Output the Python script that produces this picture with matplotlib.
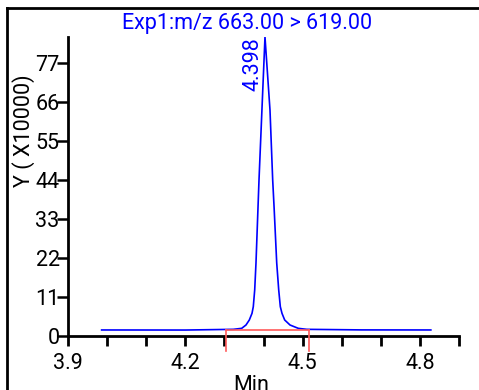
import matplotlib
matplotlib.use('Agg')
import matplotlib.pyplot as plt
from matplotlib.lines import Line2D

plt.rcParams['font.family'] = ['Roboto', 'DejaVu Sans']

# chromatogram trace (time in min, intensity in X10000)
rt = [3.986, 4.20, 4.3228, 4.3442, 4.3552, 4.3637, 4.3706, 4.3739, 4.3775,
      4.3808, 4.3885, 4.4038, 4.4166, 4.4235, 4.4272, 4.4338, 4.4389,
      4.4430, 4.4473, 4.4542, 4.4678, 4.4890, 4.5105, 4.65, 4.828]
intensity = [1.7, 1.68, 1.88, 2.16, 3.10, 4.51, 6.39, 8.27, 13.0,
             20.6, 44.0, 84.3, 63.7, 44.0, 36.0, 20.6, 13.0,
             8.27, 6.39, 4.51, 3.10, 2.16, 1.88, 1.72, 1.7]

peak_label = '4.398'
title = 'Exp1:m/z 663.00 > 619.00'

# integration window
int_start, int_end = 4.305, 4.516
int_level = 1.7

xticks_major = [3.9, 4.2, 4.5, 4.8]
xticks_minor = [4.0, 4.1, 4.3, 4.4, 4.6, 4.7, 4.9]
yticks = [0, 11, 22, 33, 44, 55, 66, 77]

FS = 15.5
W, H = 479, 390
fig = plt.figure(figsize=(W / 100, H / 100), dpi=100)
ax = fig.add_axes([68 / W, 1 - 336 / H, (459 - 68) / W, (336 - 37) / H])

ax.plot(rt, intensity, color='#0000ff', lw=1.2, zorder=3)

red = '#ff5a5a'
ax.plot([int_start, int_end], [int_level, int_level], color=red, lw=1.2, zorder=4)
ax.plot([int_start, int_start], [int_level, -4.1], color=red, lw=1.2, clip_on=False, zorder=4)
ax.plot([int_end, int_end], [int_level, -4.1], color=red, lw=1.2, clip_on=False, zorder=4)

ax.text(4.372, 84.3, peak_label, rotation=90, ha='center', va='top',
        color='#0000ff', fontsize=FS)

ax.set_xlim(3.9, 4.9)
ax.set_ylim(0, 84.3)
ax.set_xticks(xticks_major)
ax.set_xticks(xticks_minor, minor=True)
ax.set_xticklabels([f'{v:.1f}' for v in xticks_major])
ax.set_yticks(yticks)
ax.set_yticklabels([str(v) for v in yticks])

for s in ['top', 'right']:
    ax.spines[s].set_visible(False)
for s in ['left', 'bottom']:
    ax.spines[s].set_linewidth(2)

ax.tick_params(axis='x', which='both', direction='out', length=7, width=2,
               labelsize=FS, pad=5)
ax.tick_params(axis='y', direction='out', length=8, width=1.8,
               labelsize=FS, pad=-2)

fig.text(247 / W, 1 - 23 / H, title, ha='center', va='center',
         color='#0000ff', fontsize=FS)
fig.text(24 / W, 1 - 131 / H, 'Y ( X10000)', rotation=90, ha='center',
         va='center', fontsize=FS)
fig.text(251 / W, 1 - 375 / H, 'Min', ha='center', va='top', fontsize=FS)

# outer frame (left and top edges visible)
fig.add_artist(Line2D([7 / W, 7 / W], [0, 1 - 8 / H], color='black', lw=2))
fig.add_artist(Line2D([7 / W, 1], [1 - 8 / H, 1 - 8 / H], color='black', lw=2))

fig.savefig('out.png', dpi=100)
